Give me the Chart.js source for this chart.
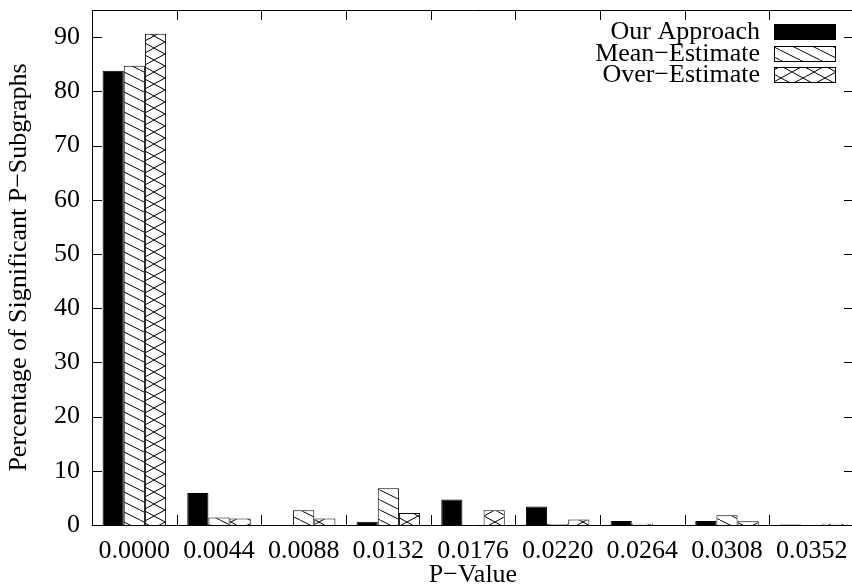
<!DOCTYPE html>
<html>
<head>
<meta charset="utf-8">
<script src="https://cdn.jsdelivr.net/npm/chart.js@4/dist/chart.umd.min.js"></script>
<style>
  html, body { margin: 0; padding: 0; background: #fff; overflow: hidden; }
  #wrap { width: 860px; height: 587px; }
</style>
</head>
<body>
<div id="wrap"><canvas id="c" width="860" height="587"></canvas></div>
<script>
// P-value bins and the percentage of significant P-subgraphs per method
const pValues = ['0.0000', '0.0044', '0.0088', '0.0132', '0.0176', '0.0220', '0.0264', '0.0308', '0.0352'];
const ourApproach  = [83.8, 5.9, 0, 0.6, 4.7, 3.4, 0.75, 0.75, 0.1];
const meanEstimate = [84.7, 1.4, 2.7, 6.8, 0, 0.2, 0.25, 1.8, 0];
const overEstimate = [90.6, 1.2, 1.2, 2.2, 2.7, 1.0, 0, 0.7, 0.25];
const yTicks = [0, 10, 20, 30, 40, 50, 60, 70, 80, 90];

const FONT = '"Liberation Serif", "DejaVu Serif", "Times New Roman", serif';
const FS = 26;

const ctx = document.getElementById('c').getContext('2d');

// Hatch fills: single diagonal (\\\) and crosshatch (XXX)
function hatch(w, h, cross) {
  const c = document.createElement('canvas');
  c.width = w; c.height = h;
  const g = c.getContext('2d');
  g.fillStyle = '#fff';
  g.fillRect(0, 0, w, h);
  g.strokeStyle = '#000';
  g.lineWidth = 1;
  g.beginPath();
  for (const dx of [-w, 0, w]) {
    g.moveTo(dx, 0); g.lineTo(dx + w, h);
    if (cross) { g.moveTo(dx, h); g.lineTo(dx + w, 0); }
  }
  g.stroke();
  return ctx.createPattern(c, 'repeat');
}
const diagFill = hatch(20, 10, false);
const crossFill = hatch(22, 12, true);

// Frame with inward tick marks on all four sides
const framePlugin = {
  id: 'frame',
  afterDraw(chart) {
    const { ctx, chartArea: a, scales } = chart;
    const x = scales.x, y = scales.y;
    const tl = 10;
    ctx.save();
    ctx.strokeStyle = '#000';
    ctx.lineWidth = 1;
    ctx.beginPath();
    ctx.rect(Math.round(a.left) + 0.5, Math.round(a.top) + 0.5,
             Math.round(a.right - a.left), Math.round(a.bottom - a.top));
    const n = x.getLabels().length;
    const w = (a.right - a.left) / n;
    for (let i = 1; i < n; i++) {
      const px = Math.round(a.left + i * w) + 0.5;
      ctx.moveTo(px, a.bottom); ctx.lineTo(px, a.bottom - tl);
      ctx.moveTo(px, a.top); ctx.lineTo(px, a.top + tl);
    }
    for (const v of yTicks) {
      const py = Math.round(y.getPixelForValue(v)) + 0.5;
      ctx.moveTo(a.left, py); ctx.lineTo(a.left + tl, py);
      ctx.moveTo(a.right, py); ctx.lineTo(a.right - tl, py);
    }
    ctx.stroke();
    ctx.restore();
  }
};

// Key in the upper right: label text, then a sample of the fill
const keyPlugin = {
  id: 'key',
  afterDraw(chart) {
    const { ctx } = chart;
    const textRight = 760, boxL = 774, boxW = 61, boxH = 15;
    const top = 24, pitch = 21.5;
    ctx.save();
    ctx.font = FS + 'px ' + FONT;
    ctx.textAlign = 'right';
    ctx.textBaseline = 'middle';
    ctx.fillStyle = '#000';
    chart.data.datasets.forEach((ds, i) => {
      const by = Math.round(top + i * pitch) + 0.5;
      ctx.fillText(ds.label, textRight, by + boxH / 2);
      ctx.fillStyle = ds.backgroundColor;
      ctx.fillRect(boxL + 0.5, by, boxW, boxH);
      ctx.strokeStyle = '#000';
      ctx.lineWidth = 1;
      ctx.strokeRect(boxL + 0.5, by, boxW, boxH);
      ctx.fillStyle = '#000';
    });
    ctx.restore();
  }
};

new Chart(ctx, {
  type: 'bar',
  data: {
    labels: pValues,
    datasets: [
      { label: 'Our Approach',  data: ourApproach,  backgroundColor: '#000' },
      { label: 'Mean−Estimate', data: meanEstimate, backgroundColor: diagFill },
      { label: 'Over−Estimate', data: overEstimate, backgroundColor: crossFill }
    ]
  },
  options: {
    responsive: false,
    animation: false,
    layout: { padding: { top: 10, right: 6, left: 0, bottom: 0 } },
    datasets: {
      bar: {
        categoryPercentage: 0.75,
        barPercentage: 1.0,
        borderColor: '#000',
        borderWidth: 1,
        borderSkipped: 'start'
      }
    },
    plugins: {
      legend: { display: false },
      tooltip: { enabled: false }
    },
    scales: {
      x: {
        grid: { display: false, drawTicks: false },
        border: { display: false },
        ticks: {
          color: '#000',
          font: { family: FONT, size: FS },
          padding: 11,
          maxRotation: 0,
          autoSkip: false
        },
        title: {
          display: true,
          text: 'P−Value',
          color: '#000',
          font: { family: FONT, size: FS, lineHeight: 0.9 },
          padding: { top: 0, bottom: 0 }
        },
        afterFit(s) {
          s.height = 62;
          s.paddingLeft = 0; s.paddingRight = 0;
        }
      },
      y: {
        min: 0,
        max: 95,
        grid: { display: false, drawTicks: false },
        border: { display: false },
        ticks: {
          stepSize: 10,
          color: '#000',
          font: { family: FONT, size: FS },
          padding: 12
        },
        afterBuildTicks(s) { s.ticks = yTicks.map(v => ({ value: v })); },
        title: {
          display: true,
          text: 'Percentage of Significant P−Subgraphs',
          color: '#000',
          font: { family: FONT, size: FS },
          padding: { top: 3.5, bottom: 0 }
        },
        afterFit(s) {
          s.width = 92;
          s.paddingTop = 0; s.paddingBottom = 0;
        }
      }
    }
  },
  plugins: [framePlugin, keyPlugin]
});
</script>
</body>
</html>
